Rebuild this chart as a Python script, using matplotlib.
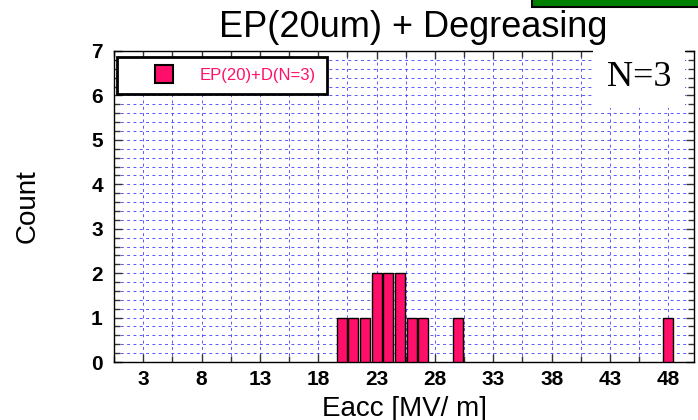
import matplotlib
matplotlib.use('Agg')
import matplotlib.pyplot as plt
from matplotlib.lines import Line2D
from matplotlib.patches import Rectangle
from matplotlib.ticker import MultipleLocator, FixedLocator

# Eacc histogram values (bin centres, counts)
eacc = [20, 21, 22, 23, 24, 25, 26, 27, 30, 48]
counts = [1, 1, 1, 2, 2, 2, 1, 1, 1, 1]
xticks = [3, 8, 13, 18, 23, 28, 33, 38, 43, 48]
title = "EP(20um) + Degreasing"
legend_label = "EP(20)+D(N=3)"

bar_color = '#FF0F6A'
grid_color = '#3a3aff'
sans = ['Liberation Sans', 'DejaVu Sans']

fig = plt.figure(figsize=(6.98, 4.2), dpi=100)
ax = fig.add_axes([0.1633, 0.138, 0.8310, 0.7406])

ax.bar(eacc, counts, width=0.85, color=bar_color, edgecolor='black',
       linewidth=1.0, zorder=3)

ax.set_xlim(0.5, 50.2)
ax.set_ylim(0, 7)
ax.xaxis.set_major_locator(FixedLocator(xticks))
ax.xaxis.set_minor_locator(FixedLocator([x + 2.5 for x in xticks] + [0.5]))
ax.yaxis.set_major_locator(MultipleLocator(1))
ax.yaxis.set_minor_locator(MultipleLocator(0.2))

ax.grid(True, which='both', axis='both', color=grid_color, linestyle=(0, (3, 3.5)),
        linewidth=0.7, alpha=0.85, zorder=0)
ax.set_axisbelow(True)

ax.tick_params(which='both', direction='in', top=True, right=True, color='#333333')
ax.tick_params(which='major', length=6, width=1)
ax.tick_params(which='minor', length=4, width=1)
ax.tick_params(axis='x', which='major', pad=6)
ax.tick_params(axis='y', which='major', pad=8)
for lab in ax.get_xticklabels() + ax.get_yticklabels():
    lab.set_family(sans)
    lab.set_fontsize(15)
    lab.set_fontweight('bold')
for sp in ax.spines.values():
    sp.set_linewidth(1.0)
    sp.set_color('black')

ax.set_xlabel("Eacc [MV/ m]", family=sans, fontsize=20, labelpad=5)
ax.set_ylabel("Count", family=sans, fontsize=20, labelpad=36)
fig.text(0.592, 0.913, title, family=sans, fontsize=26, ha='center', va='baseline')

handle = Line2D([], [], linestyle='none', marker='s', markersize=13,
                markerfacecolor=bar_color, markeredgecolor='black', markeredgewidth=1.5)
leg = ax.legend([handle], [legend_label], loc='upper left', bbox_to_anchor=(0.006, 0.98),
                frameon=True, fancybox=False, framealpha=1, edgecolor='black',
                handlelength=4.3, handletextpad=0.0, borderpad=0.65, borderaxespad=0,
                prop={'family': sans, 'size': 12})
leg.get_frame().set_linewidth(2)
leg.get_texts()[0].set_color(bar_color)
leg.set_zorder(5)

ax.text(0.905, 0.915, "N=3", transform=ax.transAxes, ha='center', va='center',
        family=['Liberation Serif', 'DejaVu Serif'], fontsize=26, zorder=4,
        bbox=dict(facecolor='white', edgecolor='none', pad=10))

# green box cut off at the top right
fig.patches.append(Rectangle((532 / 698, 1 - 7 / 420), 0.25, 0.1, transform=fig.transFigure,
                             facecolor='#008000', edgecolor='black', linewidth=1.5))

fig.savefig('out.png', dpi=100)
